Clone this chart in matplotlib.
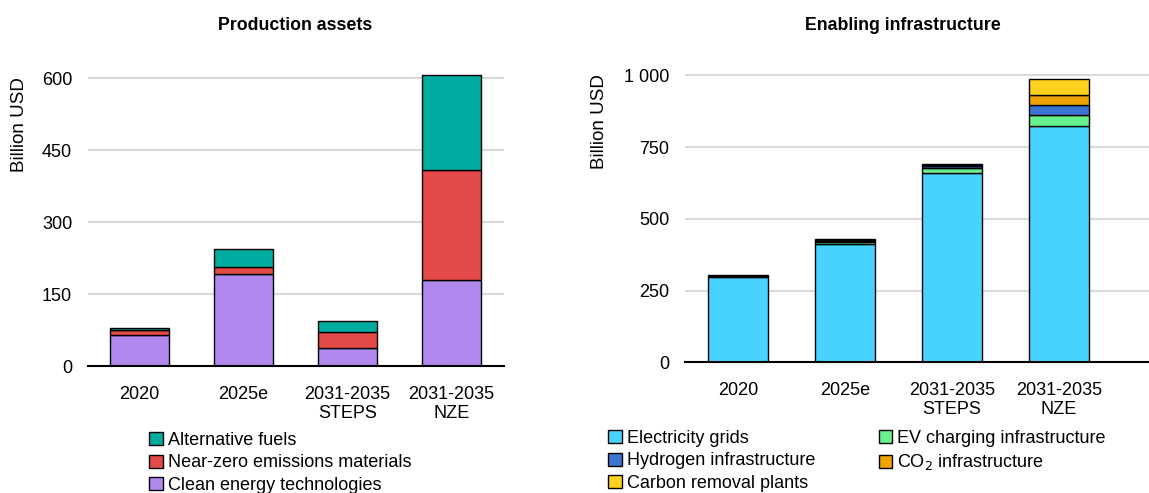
import numpy as np
import matplotlib
matplotlib.use("Agg")
import matplotlib.pyplot as plt
from matplotlib.patches import Patch
from matplotlib.ticker import FuncFormatter

plt.rcParams['font.family'] = ['Liberation Sans', 'DejaVu Sans']

categories = ["2020", "2025e", "2031-2035\nSTEPS", "2031-2035\nNZE"]

# Production assets (billion USD)
clean_tech = [66, 192, 39, 179]
nze_materials = [10, 14, 33, 231]
alt_fuels = [3, 39, 23, 196]

# Enabling infrastructure (billion USD)
grids = [296, 411, 661, 822]
ev_charging = [3, 8, 17, 40]
hydrogen = [2, 4, 6, 35]
co2_infra = [1, 3, 4, 34]
carbon_removal = [1, 2, 3, 55]

W, H = 1149, 493
fig = plt.figure(figsize=(W / 100, H / 100), dpi=100)

grid_col = "#d9d9d9"
fs = 13


def style_axes(ax, ylab_x, ylab_y):
    ax.set_axisbelow(True)
    ax.yaxis.grid(True, color=grid_col, linewidth=1.5)
    for s in ["top", "right", "left"]:
        ax.spines[s].set_visible(False)
    ax.spines["bottom"].set_linewidth(1.5)
    ax.tick_params(axis="both", length=0, labelsize=fs)
    ax.tick_params(axis="y", pad=11)
    ax.tick_params(axis="x", pad=14)
    ax.set_ylabel("Billion USD", fontsize=13.5)
    ax.yaxis.set_label_coords(ylab_x, ylab_y)


x = np.arange(len(categories))
bw = 0.57

# left panel
ax1 = fig.add_axes([87.5 / W, (H - 366.3) / H, 416 / W, 316.8 / H])
bottom = np.zeros(4)
left_series = [
    (clean_tech, "#b088ee", "Clean energy technologies"),
    (nze_materials, "#e34a48", "Near-zero emissions materials"),
    (alt_fuels, "#00ab9f", "Alternative fuels"),
]
for vals, col, lab in left_series:
    ax1.bar(x, vals, bw, bottom=bottom, color=col, edgecolor="black", linewidth=1)
    bottom += np.array(vals)
ax1.set_xlim(-0.5, 3.5)
ax1.set_ylim(0, 660)
ax1.set_yticks([0, 150, 300, 450, 600])
ax1.set_xticks(x)
ax1.set_xticklabels(categories)
style_axes(ax1, -0.143, 0.764)

# right panel
ax2 = fig.add_axes([684.5 / W, (H - 362.3) / H, 464.5 / W, 315.7 / H])
bottom = np.zeros(4)
right_series = [
    (grids, "#48d3ff", "Electricity grids"),
    (ev_charging, "#69f08e", "EV charging infrastructure"),
    (hydrogen, "#3b75d1", "Hydrogen infrastructure"),
    (co2_infra, "#efa400", "CO$_2$ infrastructure"),
    (carbon_removal, "#fcd21e", "Carbon removal plants"),
]
for vals, col, lab in right_series:
    ax2.bar(x, vals, bw, bottom=bottom, color=col, edgecolor="black", linewidth=1)
    bottom += np.array(vals)
ax2.set_xlim(-0.5, -0.5 + 464.5 / 107)
ax2.set_ylim(0, 1100)
ax2.set_yticks([0, 250, 500, 750, 1000])
ax2.yaxis.set_major_formatter(FuncFormatter(lambda v, p: f"{int(v):,}".replace(",", " ")))
ax2.set_xticks(x)
ax2.set_xticklabels(categories)
style_axes(ax2, -0.164, 0.761)

# titles
fig.text(295 / W, 1 - 25 / H, "Production assets", ha="center", va="center",
         fontsize=12.8, fontweight="bold")
fig.text(903 / W, 1 - 25 / H, "Enabling infrastructure", ha="center", va="center",
         fontsize=12.8, fontweight="bold")

# legends
def handles(items):
    return [Patch(facecolor=c, edgecolor="black", linewidth=1, label=l) for _, c, l in items]

leg_kw = dict(frameon=False, fontsize=fs, handlelength=0.75, handleheight=0.75,
              handletextpad=0.3, labelspacing=0.3, borderpad=0, borderaxespad=0)

fig.legend(handles=handles(left_series[::-1]), loc="upper left",
           bbox_to_anchor=(149 / W, 1 - 432 / H), **leg_kw)

rs = right_series
order = [rs[0], rs[2], rs[4], rs[1], rs[3]]
fig.legend(handles=handles(order), loc="upper left", ncol=2, columnspacing=3.5,
           bbox_to_anchor=(608 / W, 1 - 430 / H), **leg_kw)

fig.savefig("out.png", dpi=100)
